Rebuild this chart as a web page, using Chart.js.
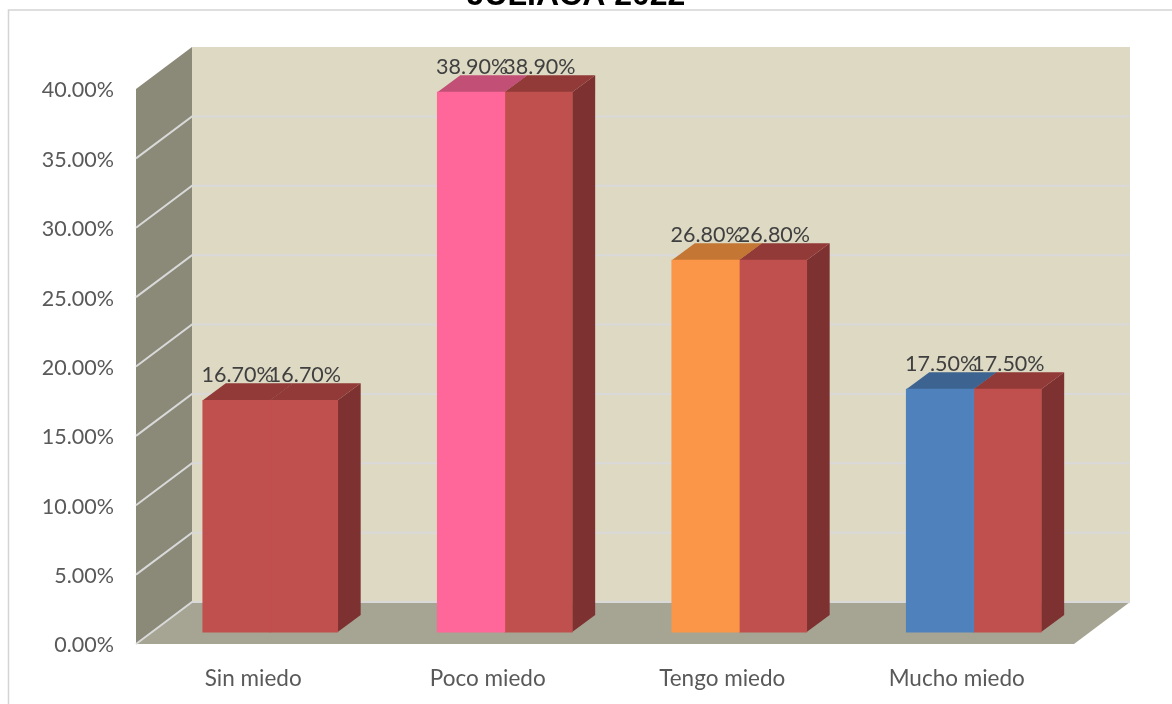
<!DOCTYPE html>
<html>
<head>
<meta charset="utf-8">
<title>Miedo</title>
<script src="https://cdn.jsdelivr.net/npm/chart.js@4"></script>
<style>
    html, body { margin: 0; padding: 0; background: #fff; overflow: hidden; }
    #wrap { position: absolute; left: 0; top: -24px; width: 1172px; height: 728px; }
</style>
</head>
<body>
<div id="wrap"><canvas id="myChart" width="1172" height="728"></canvas></div>
<script>
const titulo = 'JULIACA 2022';
const categorias = ['Sin miedo', 'Poco miedo', 'Tengo miedo', 'Mucho miedo'];
const serie1 = [16.7, 38.9, 26.8, 17.5];
const serie2 = [16.7, 38.9, 26.8, 17.5];
const colores1 = ['#c0504d', '#ff6699', '#fb9648', '#4f81bd'];
const techos1 = ['#923a38', '#c24f76', '#c47634', '#3d6491'];
const colores2 = ['#c0504d', '#c0504d', '#c0504d', '#c0504d'];
const techos2 = ['#923a38', '#923a38', '#923a38', '#923a38'];
const lateral = '#7d3130';

// profundidad de las paredes y de las barras (px)
const pared = { dx: 56, dy: -42 };
const barra = { off: 17, offY: -12, dx: 23, dy: -17 };

function poligono(c, puntos, color) {
    c.fillStyle = color;
    c.beginPath();
    puntos.forEach(function (p, i) {
        if (i === 0) c.moveTo(p[0], p[1]);
        else c.lineTo(p[0], p[1]);
    });
    c.closePath();
    c.fill();
}

const caja3d = {
    id: 'caja3d',
    // el titulo va centrado en todo el lienzo, no sobre el area del grafico
    afterLayout: function (chart) {
        chart.titleBlock.right = 1152;
    },
    // marco, paredes y rejilla
    beforeDatasetsDraw: function (chart) {
        const c = chart.ctx;
        const a = chart.chartArea;
        const y = chart.scales.y;

        c.save();
        c.strokeStyle = '#d4d4d4';
        c.lineWidth = 1.5;
        c.strokeRect(8.5, 34, 1200, 800);

        poligono(c, [[a.left + pared.dx, a.top + pared.dy], [a.right + pared.dx, a.top + pared.dy],
            [a.right + pared.dx, a.bottom + pared.dy], [a.left + pared.dx, a.bottom + pared.dy]], '#ddd9c3');
        poligono(c, [[a.left, a.top], [a.left + pared.dx, a.top + pared.dy],
            [a.left + pared.dx, a.bottom + pared.dy], [a.left, a.bottom]], '#8b8a78');
        poligono(c, [[a.left, a.bottom], [a.right, a.bottom],
            [a.right + pared.dx, a.bottom + pared.dy], [a.left + pared.dx, a.bottom + pared.dy]], '#a6a492');

        c.strokeStyle = '#d9d9d9';
        c.lineWidth = 2;
        y.ticks.forEach(function (t) {
            if (t.value === y.max) return;
            const py = y.getPixelForValue(t.value);
            c.beginPath();
            c.moveTo(a.left, py);
            c.lineTo(a.left + pared.dx, py + pared.dy);
            c.lineTo(a.right + pared.dx, py + pared.dy);
            c.stroke();
        });

        // caras laterales y superiores, ya con el desplazamiento de las barras
        c.translate(barra.off, barra.offY);
        const techos = [techos1, techos2];
        chart.data.datasets.forEach(function (ds, d) {
            chart.getDatasetMeta(d).data.forEach(function (el) {
                const r = el.x + el.width / 2;
                poligono(c, [[r, el.y], [r + barra.dx, el.y + barra.dy],
                    [r + barra.dx, el.base + barra.dy], [r, el.base]], lateral);
            });
        });
        chart.data.datasets.forEach(function (ds, d) {
            chart.getDatasetMeta(d).data.forEach(function (el, i) {
                const l = el.x - el.width / 2;
                const r = el.x + el.width / 2;
                poligono(c, [[l, el.y], [r, el.y], [r + barra.dx, el.y + barra.dy],
                    [l + barra.dx, el.y + barra.dy]], techos[d][i]);
            });
        });
        // se queda trasladado para las caras frontales, afterDatasetsDraw lo restaura
    },
    afterDatasetsDraw: function (chart) {
        const c = chart.ctx;
        c.restore();

        c.save();
        c.fillStyle = '#404040';
        c.font = '21.5px Lato';
        c.textAlign = 'center';
        c.textBaseline = 'middle';
        chart.data.datasets.forEach(function (ds, d) {
            chart.getDatasetMeta(d).data.forEach(function (el, i) {
                c.fillText(ds.data[i].toFixed(2) + '%', el.x + barra.off + 1, el.y + barra.offY - 25);
            });
        });
        c.restore();
    }
};

const ctx = document.getElementById('myChart').getContext('2d');
new Chart(ctx, {
    type: 'bar',
    data: {
        labels: categorias,
        datasets: [
            { label: 'Serie 1', data: serie1, backgroundColor: colores1, clip: false },
            { label: 'Serie 2', data: serie2, backgroundColor: colores2, clip: false }
        ]
    },
    options: {
        responsive: false,
        animation: false,
        datasets: { bar: { categoryPercentage: 0.575, barPercentage: 1, inflateAmount: 0.4 } },
        layout: { padding: { left: 0, right: 98, top: 0, bottom: 0 } },
        plugins: {
            legend: { display: false },
            tooltip: { enabled: false },
            title: {
                display: true,
                text: titulo,
                color: '#000',
                font: { family: '"Liberation Sans"', size: 32, weight: 'bold' },
                padding: { top: 1, bottom: 73.6 }
            }
        },
        scales: {
            x: {
                grid: { display: false },
                border: { display: false },
                ticks: { color: '#595959', font: { family: 'Lato', size: 22.5 }, padding: 13 },
                afterFit: function (s) { s.height = 60; }
            },
            y: {
                min: 0,
                max: 40,
                grid: { display: false },
                border: { display: false },
                ticks: {
                    stepSize: 5,
                    color: '#595959',
                    font: { family: 'Lato', size: 21.5 },
                    padding: 14,
                    labelOffset: 1.5,
                    callback: function (v) { return v.toFixed(2) + '%'; }
                },
                afterFit: function (s) { s.width = 136; }
            }
        }
    },
    plugins: [caja3d]
});
</script>
</body>
</html>
